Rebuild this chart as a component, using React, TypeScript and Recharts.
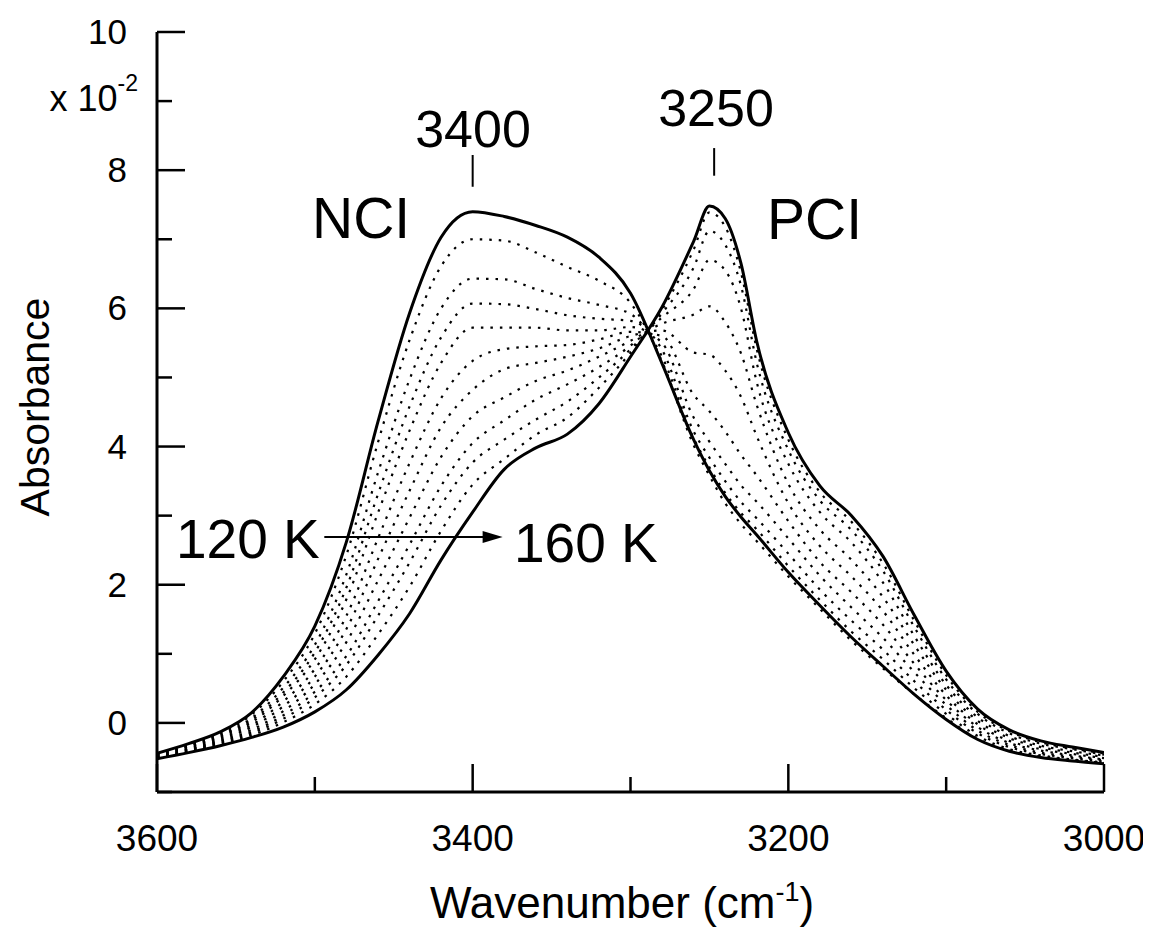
import { LineChart, Line, XAxis, YAxis, ReferenceLine, Customized } from "recharts";

// wavenumber grid (cm-1)
const waveNumbers = [
  3600, 3580, 3560, 3540, 3520, 3500, 3480, 3460, 3440, 3420, 3400, 3380, 3360, 3340, 3320, 3300,
  3280, 3260, 3250, 3240, 3230, 3220, 3200, 3180, 3160, 3140, 3120, 3100, 3080, 3060, 3040, 3020, 3000,
];

// 120 K spectrum (solid, NCI band) in units of 10^-2
const abs120K = [
  -0.44, -0.3, -0.13, 0.15, 0.67, 1.4, 2.62, 4.36, 5.93, 7.03, 7.4, 7.33, 7.2, 7.03, 6.74, 6.22,
  5.2, 4.1, 3.65, 3.28, 2.98, 2.72, 2.18, 1.7, 1.24, 0.82, 0.41, 0.05, -0.24, -0.41, -0.5, -0.55, -0.59,
];

// 160 K spectrum (solid, PCI band)
const abs160K = [
  -0.52, -0.43, -0.33, -0.21, -0.06, 0.16, 0.48, 0.98, 1.58, 2.36, 3.05, 3.67, 3.98, 4.18, 4.62, 5.3,
  6.02, 6.97, 7.48, 7.3, 6.65, 5.52, 4.2, 3.43, 3.0, 2.41, 1.55, 0.75, 0.2, -0.1, -0.26, -0.35, -0.43,
];

// intermediate temperatures (dotted), from coldest to warmest
const mid1 = [
  -0.45, -0.31, -0.15, 0.12, 0.6, 1.29, 2.43, 4.06, 5.54, 6.61, 7.0, 6.98, 6.81, 6.6, 6.4, 6.08,
  5.23, 4.02, 3.58, 3.18, 2.88, 2.63, 2.12, 1.65, 1.19, 0.79, 0.41, 0.07, -0.23, -0.4, -0.49, -0.54, -0.58,
];
const mid2 = [
  -0.46, -0.33, -0.17, 0.07, 0.51, 1.13, 2.15, 3.62, 4.97, 6.0, 6.43, 6.42, 6.28, 6.15, 6.05, 5.92,
  5.3, 4.12, 3.7, 3.33, 3.04, 2.8, 2.27, 1.78, 1.32, 0.92, 0.5, 0.13, -0.19, -0.38, -0.47, -0.53, -0.57,
];
const mid3 = [
  -0.46, -0.34, -0.19, 0.04, 0.44, 1.02, 1.96, 3.31, 4.58, 5.58, 6.07, 6.06, 5.99, 5.9, 5.85, 5.82,
  5.4, 4.22, 3.84, 3.5, 3.2, 2.96, 2.45, 1.93, 1.48, 1.06, 0.6, 0.19, -0.15, -0.35, -0.45, -0.51, -0.56,
];
const mid4 = [
  -0.47, -0.35, -0.21, 0.01, 0.39, 0.92, 1.79, 3.04, 4.23, 5.21, 5.72, 5.72, 5.72, 5.68, 5.68, 5.73,
  5.5, 4.42, 4.07, 3.75, 3.44, 3.2, 2.67, 2.13, 1.67, 1.23, 0.73, 0.26, -0.11, -0.32, -0.43, -0.49, -0.54,
];
const mid5 = [
  -0.48, -0.37, -0.23, -0.03, 0.31, 0.78, 1.55, 2.67, 3.76, 4.7, 5.24, 5.41, 5.45, 5.47, 5.55, 5.66,
  5.6, 4.75, 4.51, 4.22, 3.88, 3.58, 2.92, 2.33, 1.89, 1.42, 0.85, 0.33, -0.06, -0.29, -0.4, -0.47, -0.53,
];
const mid6 = [
  -0.49, -0.38, -0.25, -0.06, 0.24, 0.67, 1.36, 2.37, 3.36, 4.28, 4.82, 5.12, 5.21, 5.3, 5.42, 5.6,
  5.68, 5.36, 5.33, 5.1, 4.72, 4.15, 3.18, 2.56, 2.12, 1.62, 0.98, 0.4, -0.02, -0.26, -0.38, -0.45, -0.51,
];
const mid7 = [
  -0.49, -0.39, -0.27, -0.1, 0.17, 0.56, 1.17, 2.06, 2.97, 3.85, 4.44, 4.71, 4.95, 5.1, 5.3, 5.53,
  5.78, 5.91, 6.03, 5.8, 5.35, 4.6, 3.46, 2.8, 2.36, 1.82, 1.12, 0.48, 0.03, -0.22, -0.35, -0.43, -0.49,
];
const mid8 = [
  -0.5, -0.4, -0.28, -0.13, 0.11, 0.45, 0.97, 1.76, 2.58, 3.43, 4.05, 4.38, 4.68, 4.9, 5.15, 5.46,
  5.87, 6.28, 6.7, 6.55, 6.0, 4.93, 3.75, 3.05, 2.61, 2.03, 1.25, 0.55, 0.08, -0.19, -0.33, -0.41, -0.47,
];
const mid9 = [
  -0.51, -0.41, -0.3, -0.15, 0.06, 0.37, 0.84, 1.55, 2.32, 3.15, 3.77, 4.1, 4.39, 4.65, 5.0, 5.41,
  5.93, 6.59, 7.12, 6.92, 6.33, 5.21, 3.95, 3.22, 2.79, 2.2, 1.38, 0.63, 0.13, -0.15, -0.3, -0.38, -0.46,
];
const mid10 = [
  -0.51, -0.42, -0.31, -0.18, 0.01, 0.27, 0.67, 1.28, 1.97, 2.78, 3.45, 3.82, 4.17, 4.42, 4.85, 5.36,
  5.98, 6.85, 7.39, 7.18, 6.52, 5.41, 4.1, 3.34, 2.91, 2.31, 1.47, 0.69, 0.16, -0.12, -0.28, -0.37, -0.44,
];

const intermediates = [mid1, mid2, mid3, mid4, mid5, mid6, mid7, mid8, mid9, mid10];

const xTicks = [3600, 3500, 3400, 3300, 3200, 3100, 3000];
const yTicks = [-1, 0, 1, 2, 3, 4, 5, 6, 7, 8, 9, 10];

const data = waveNumbers.map((w, i) => {
  const row: Record<string, number> = { w, t120: abs120K[i], t160: abs160K[i] };
  intermediates.forEach((s, k) => {
    row["m" + (k + 1)] = s[i];
  });
  return row;
});

const FONT = '"Liberation Sans", Arial, Helvetica, sans-serif';
const MAJOR = 28;
const MINOR = 15;

function BottomTick(props: any) {
  const { x, y, payload } = props;
  const major = payload.value % 200 === 0;
  return (
    <g>
      <line x1={x} y1={y} x2={x} y2={y - (major ? MAJOR : MINOR)} stroke="#000" strokeWidth={2.5} />
      {major && (
        <text x={x} y={y + 59} textAnchor="middle" fontSize={37} fontFamily={FONT} fill="#000">
          {payload.value}
        </text>
      )}
    </g>
  );
}

function TopTick(props: any) {
  const { x, y, payload } = props;
  const major = payload.value % 200 === 0;
  return <line x1={x} y1={y} x2={x} y2={y + (major ? MAJOR : MINOR)} stroke="#000" strokeWidth={2.5} />;
}

function LeftTick(props: any) {
  const { x, y, payload } = props;
  const v = payload.value;
  const major = v % 2 === 0;
  return (
    <g>
      <line x1={x} y1={y} x2={x + (major ? MAJOR : MINOR)} y2={y} stroke="#000" strokeWidth={2.5} />
      {major && v >= 0 && (
        <text x={x - 30} y={y + 12} textAnchor="end" fontSize={35} fontFamily={FONT} fill="#000">
          {v}
        </text>
      )}
    </g>
  );
}

function RightTick(props: any) {
  const { x, y, payload } = props;
  const major = payload.value % 2 === 0;
  return <line x1={x} y1={y} x2={x - (major ? MAJOR : MINOR)} y2={y} stroke="#000" strokeWidth={2.5} />;
}

function Arrow(props: any) {
  const { x1, y1, x2, y2 } = props;
  return (
    <g>
      <line x1={x1} y1={y1} x2={x2 - 18} y2={y2} stroke="#000" strokeWidth={2} />
      <polygon points={`${x2},${y2} ${x2 - 20},${y2 - 6} ${x2 - 20},${y2 + 6}`} fill="#000" />
    </g>
  );
}

function Annotations() {
  return (
    <g fontFamily={FONT} fill="#000">
      <text x={130} y={103} textAnchor="end" fontSize={36}>
        x 10<tspan dy={-20} fontSize={23}>-2</tspan>
      </text>
      <text x={465} y={139} textAnchor="middle" fontSize={52}>3400</text>
      <text x={708} y={118} textAnchor="middle" fontSize={52}>3250</text>
      <text x={304} y={230} fontSize={57}>NCI</text>
      <text x={759} y={231} fontSize={57}>PCI</text>
      <text x={168} y={550} fontSize={55}>120 K</text>
      <text x={506} y={554} fontSize={55}>160 K</text>
      <text x={614} y={910} textAnchor="middle" fontSize={44}>
        Wavenumber (cm<tspan dy={-17} fontSize={27}>-1</tspan>
        <tspan dy={17}>)</tspan>
      </text>
      <text x={0} y={0} transform="translate(41 399) rotate(-90)" textAnchor="middle" fontSize={41}>
        Absorbance
      </text>
    </g>
  );
}

export default function App() {
  return (
    <LineChart width={1143} height={922} data={data} margin={{ top: 24, right: 47, left: 0, bottom: 0 }}>
      <XAxis
        dataKey="w"
        type="number"
        domain={[3000, 3600]}
        reversed
        ticks={xTicks}
        allowDataOverflow
        height={138}
        tickSize={0}
        tickMargin={0}
        tick={<BottomTick />}
        tickLine={false}
        axisLine={{ stroke: "#000", strokeWidth: 3 }}
      />
      <XAxis
        xAxisId="top"
        orientation="top"
        dataKey="w"
        type="number"
        domain={[3000, 3600]}
        reversed
        ticks={xTicks}
        allowDataOverflow
        height={0}
        tickSize={0}
        tickMargin={0}
        tick={<TopTick />}
        tickLine={false}
        axisLine={{ stroke: "#000", strokeWidth: 3 }}
      />
      <YAxis
        type="number"
        domain={[-1, 10]}
        ticks={yTicks}
        allowDataOverflow
        width={149}
        tickSize={0}
        tickMargin={0}
        tick={<LeftTick />}
        tickLine={false}
        axisLine={{ stroke: "#000", strokeWidth: 3 }}
      />
      <YAxis
        yAxisId="right"
        orientation="right"
        type="number"
        domain={[-1, 10]}
        ticks={yTicks}
        allowDataOverflow
        width={0}
        tickSize={0}
        tickMargin={0}
        tick={<RightTick />}
        tickLine={false}
        axisLine={{ stroke: "#000", strokeWidth: 3 }}
      />

      {intermediates.map((_, k) => (
        <Line
          key={k}
          dataKey={"m" + (k + 1)}
          type="monotone"
          stroke="#000"
          strokeWidth={2.2}
          strokeDasharray="2.5 7"
          dot={false}
          isAnimationActive={false}
        />
      ))}
      <Line dataKey="t120" type="monotone" stroke="#000" strokeWidth={3} dot={false} isAnimationActive={false} />
      <Line dataKey="t160" type="monotone" stroke="#000" strokeWidth={3} dot={false} isAnimationActive={false} />

      {/* peak position marks */}
      <ReferenceLine segment={[{ x: 3400, y: 8.22 }, { x: 3400, y: 7.76 }]} stroke="#000" strokeWidth={2} />
      <ReferenceLine segment={[{ x: 3247, y: 8.32 }, { x: 3247, y: 7.92 }]} stroke="#000" strokeWidth={2} />
      {/* 120 K -> 160 K arrow */}
      <ReferenceLine segment={[{ x: 3494, y: 2.69 }, { x: 3381, y: 2.69 }]} shape={<Arrow />} />

      <Customized component={<Annotations />} />
    </LineChart>
  );
}
